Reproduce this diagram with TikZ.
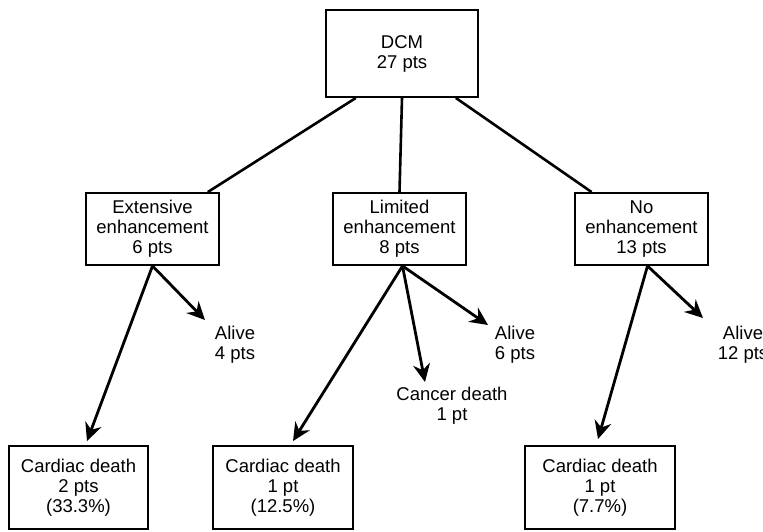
\documentclass[tikz,border=0pt]{standalone}
\usepackage{fontspec}
\setmainfont{Liberation Sans}
\usetikzlibrary{arrows.meta,calc}

\tikzset{
    box/.style={draw, line width=1.9pt, align=center, inner sep=2pt,
        font=\fontsize{18.5}{20}\selectfont},
    outcome/.style={align=center, inner sep=0pt, font=\fontsize{18.5}{20}\selectfont},
    branch/.style={line width=2.6pt},
    flow/.style={line width=2.8pt, -{Stealth[length=18pt,width=17pt,inset=6pt]}}
}

\begin{document}
\begin{tikzpicture}[x=1pt, y=-1pt]
    \useasboundingbox (0,0) rectangle (763,531);

    % Root
    \node[box, minimum width=152pt, minimum height=87pt] (dcm) at (402,53.5) {DCM\\27 pts};

    % Enhancement groups
    \node[box, minimum width=133pt, minimum height=72pt] (ext) at (152.5,229) {Extensive\\enhancement\\6 pts};
    \node[box, minimum width=133pt, minimum height=72pt] (lim) at (399.5,229) {Limited\\enhancement\\8 pts};
    \node[box, minimum width=133pt, minimum height=72pt] (none) at (641.5,229) {No\\enhancement\\13 pts};

    % Cardiac deaths
    \node[box, minimum width=139pt, minimum height=83pt] (extcard) at (78.5,487.5) {Cardiac death\\2 pts\\(33.3\%)};
    \node[box, minimum width=140pt, minimum height=83pt] (limcard) at (283,487.5) {Cardiac death\\1 pt\\(12.5\%)};
    \node[box, minimum width=150pt, minimum height=83pt] (nocard) at (600,487.5) {Cardiac death\\1 pt\\(7.7\%)};

    % Other outcomes
    \node[outcome] (extalive) at (235,345) {Alive\\4 pts};
    \node[outcome] (limalive) at (515,345) {Alive\\6 pts};
    \node[outcome] (limcancer) at (452,406) {Cancer death\\1 pt};
    \node[outcome] (noalive) at (743,345) {Alive\\12 pts};

    % Arrow tips
    \coordinate (extalivetip) at (205,320);
    \coordinate (limalivetip) at (488,325);
    \coordinate (limcancertip) at (425,382);
    \coordinate (noalivetip) at (703,318);

    % Root to groups
    \draw[branch] ($(dcm.south west)!0.2!(dcm.south east)$) -- ($(ext.north west)!0.91!(ext.north east)$);
    \draw[branch] (dcm.south) -- (lim.north);
    \draw[branch] ($(dcm.south west)!0.85!(dcm.south east)$) -- ($(none.north west)!0.13!(none.north east)$);

    % Groups to outcomes
    \draw[flow] (ext.south) -- (extalivetip);
    \draw[flow] (ext.south) -- ($(extcard.north)+(8.5,-4)$);
    \draw[flow] ($(lim.south)+(3,0)$) -- (limalivetip);
    \draw[flow] ($(lim.south)+(3,0)$) -- (limcancertip);
    \draw[flow] ($(lim.south)+(3,0)$) -- ($(limcard.north)+(10,-4)$);
    \draw[flow] ($(none.south)+(6,0)$) -- (noalivetip);
    \draw[flow] ($(none.south)+(6,0)$) -- ($(nocard.north)+(-2,-6)$);
\end{tikzpicture}
\end{document}
